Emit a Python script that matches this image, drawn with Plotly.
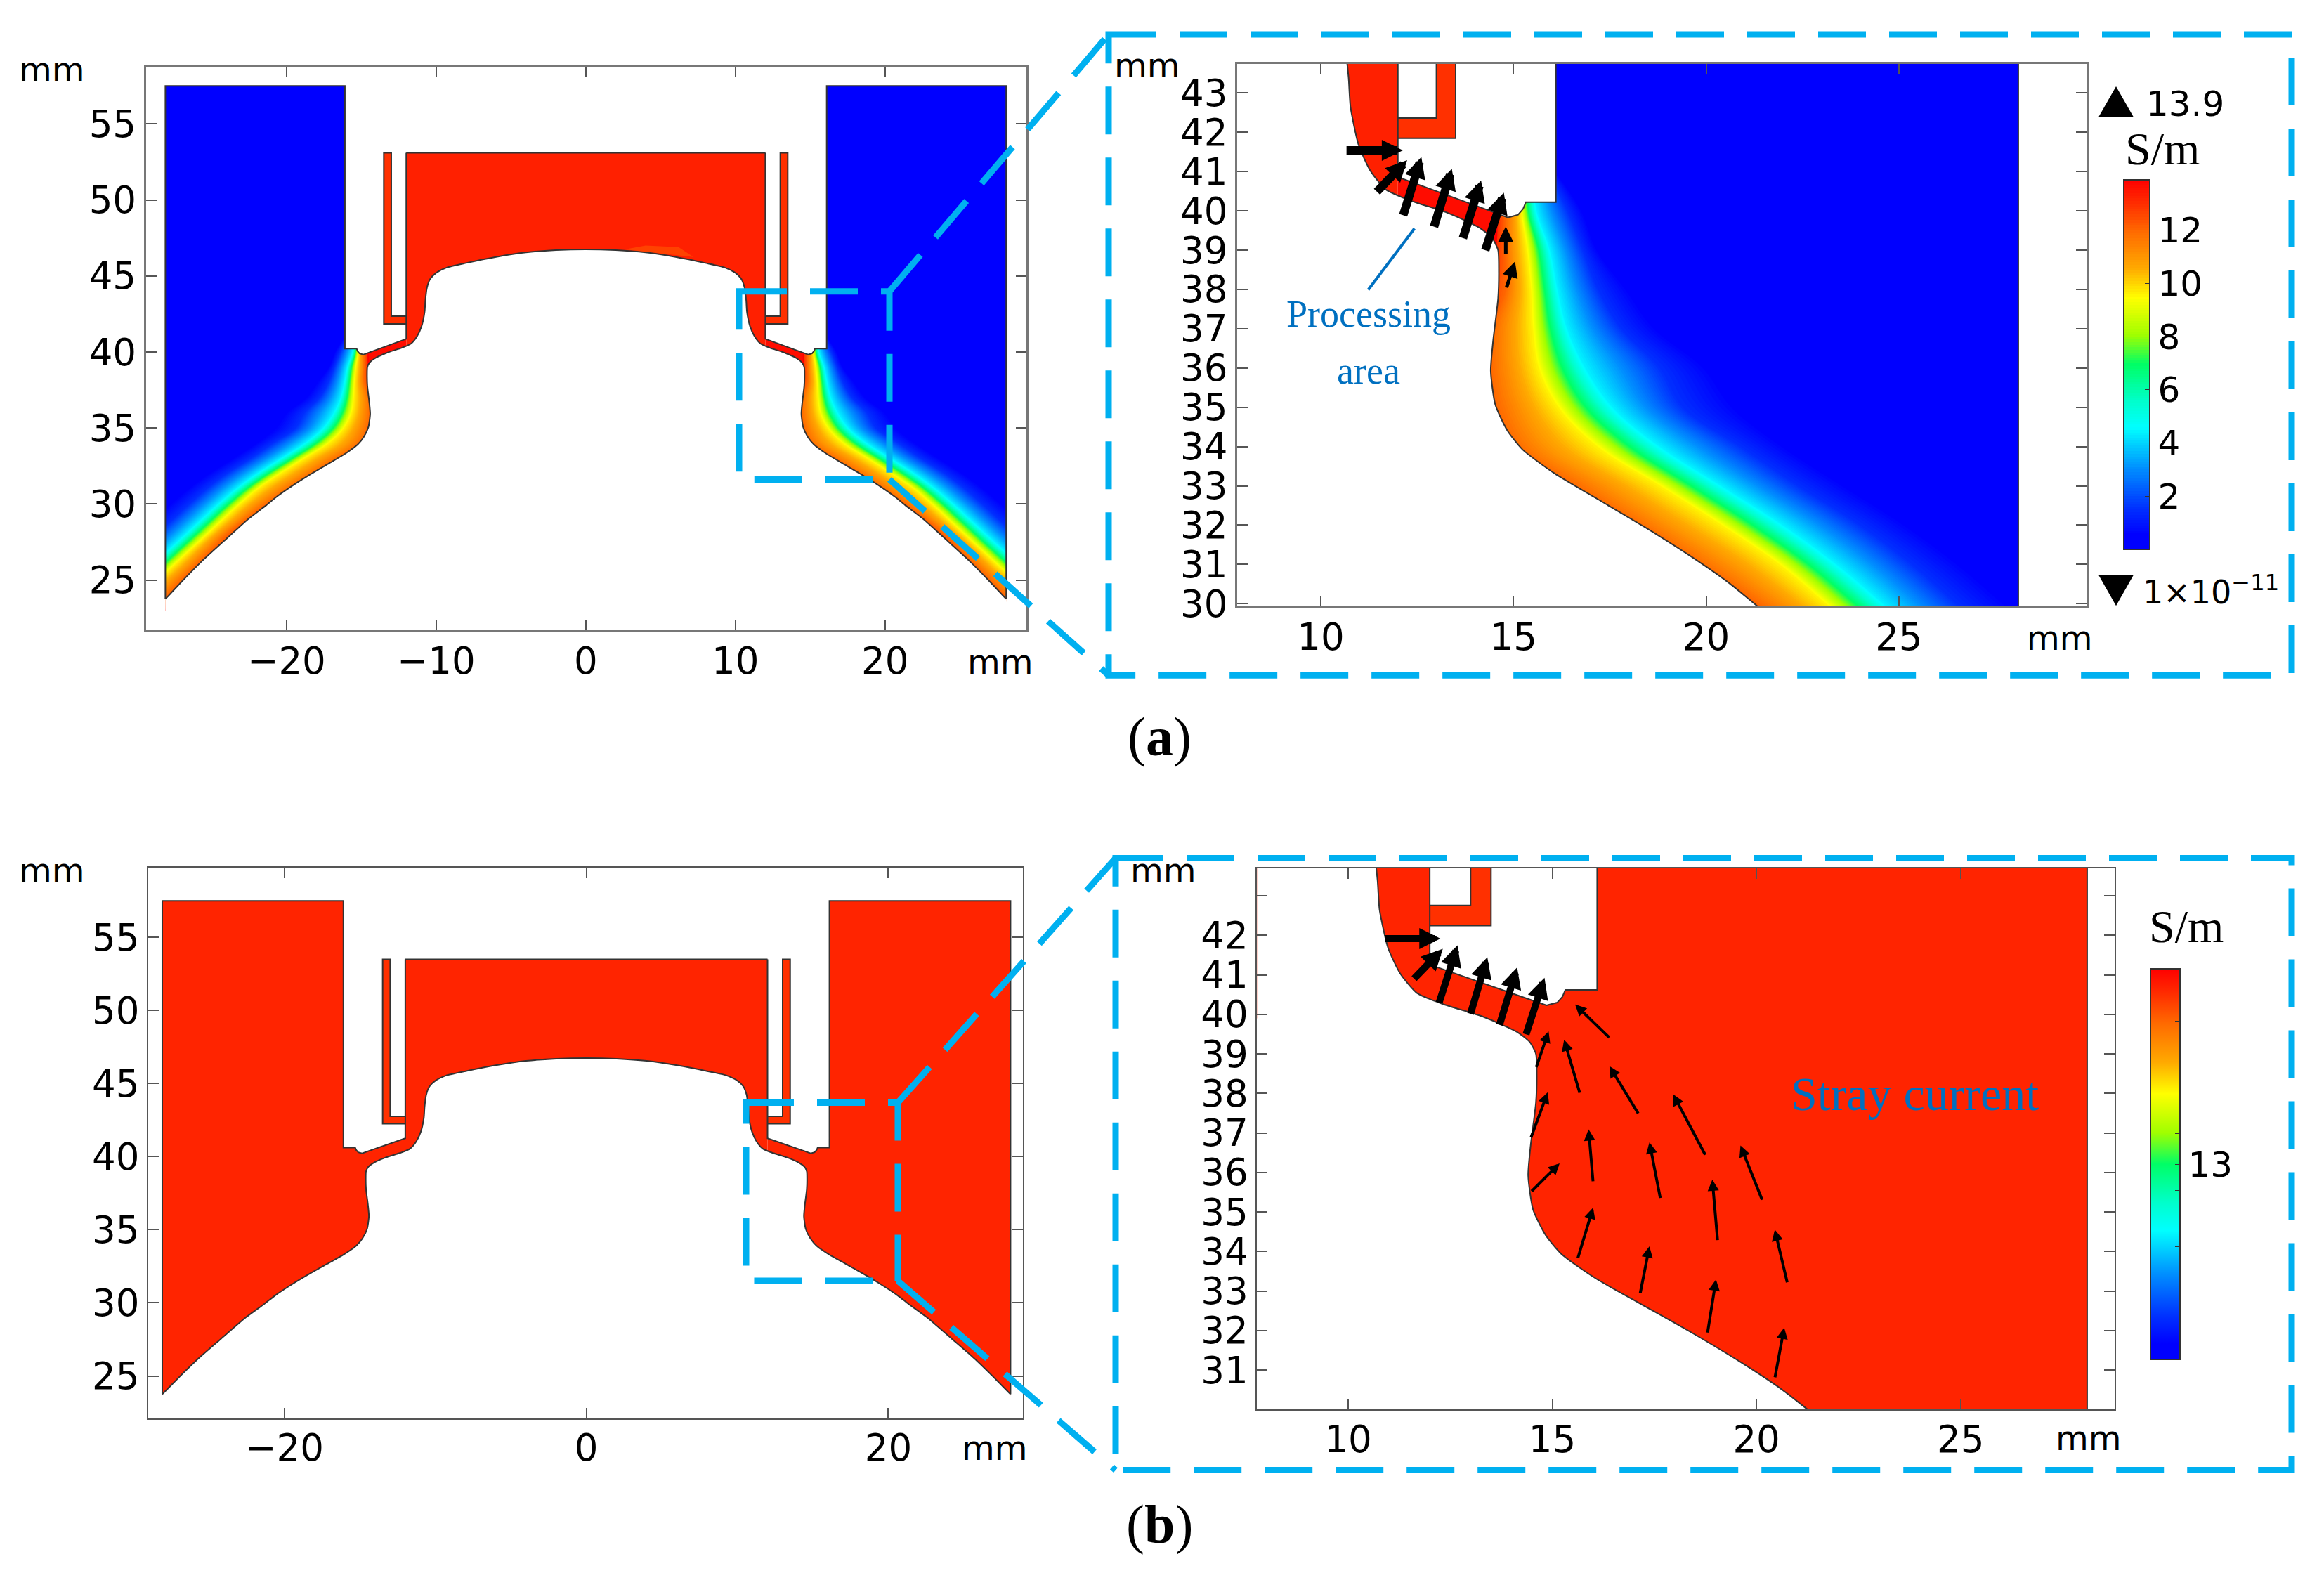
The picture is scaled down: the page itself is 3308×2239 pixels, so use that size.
import plotly.graph_objects as go

W, H = 3308, 2239

# workpiece profile, right half, centre -> tip (mm)
arch_x = [0, 2, 4, 6, 8, 9.3, 10, 10.4, 10.62, 10.72, 10.77, 10.98, 11.28, 11.69]
arch_y = [46.75, 46.7, 46.55, 46.25, 45.85, 45.55, 45.2, 44.8, 44.2, 43.4, 42.65, 41.68, 41.03, 40.54]
flank_x = [12.3, 13.31, 14.13, 14.45, 14.6, 14.62, 14.6, 14.47, 14.41, 14.53, 14.84, 15.24, 16.06, 17.17, 18.39,
           19.61, 20.63, 21.34, 22.57, 24.2, 25.7, 27, 28.1, 28.1]
flank_y = [40.27, 39.94, 39.56, 39.3, 39.0, 38.5, 37.77, 36.68, 35.92, 35.06, 34.41, 33.92, 33.32, 32.67, 31.96,
           31.2, 30.5, 29.93, 29.0, 27.55, 26.2, 24.9, 23.75, 23.75]

# tool profile, right half
tool_x = [16.1, 16.1, 15.32, 15.25, 15.12, 14.86, 14.5, 14, 12]
tool_y = [57.5, 40.22, 40.22, 40.05, 39.9, 39.83, 39.96, 40.14, 40.86]
strip_x = [12, 13.5, 13.5, 13, 13, 12]
strip_y = [41.85, 41.85, 53.1, 53.1, 42.36, 42.36]
top_y = 53.1
block_top = 57.5
block_right = 28.1
tool_lift_b = 0.4
glow_x = [2.6, 7.2, 6.2, 4, 2.6]
glow_y = [46.75, 46.25, 46.9, 47.0, 46.75]

# where each conductivity level sits on each row: S/m across, y in mm down, x in mm in the cells
sigma_levels = [13.9, 13, 12, 11, 9.6, 7, 4.4, 1.5, 0.2, 0]
sigma_rows = [23, 24, 25, 26, 27, 28, 29, 30, 31, 32, 33, 34, 35, 36, 37, 38, 39, 40, 41]
sigma_x = [
    [27.2, 28.2, 29.2, 29.9, 30.8, 31.55, 32.3, 34.2, 35.9, 40],
    [26, 27, 28, 28.7, 29.7, 30.45, 31.2, 33.1, 34.8, 40],
    [25, 26, 27, 27.7, 28.6, 29.35, 30.1, 32, 33.7, 40],
    [24, 25, 26, 26.6, 27.5, 28.25, 29, 30.9, 32.6, 40],
    [23, 24, 25, 25.6, 26.4, 27.15, 27.9, 29.8, 31.5, 40],
    [22, 23, 24, 24.55, 25.3, 26.05, 26.8, 28.7, 30.4, 40],
    [20.7, 21.7, 22.7, 23.3, 24.2, 24.95, 25.7, 27.6, 29.3, 40],
    [19.3, 20.3, 21.34, 22.1, 23.1, 23.85, 24.6, 26.5, 28.2, 40],
    [17.8, 18.8, 19.8, 20.7, 21.9, 22.65, 23.4, 25.35, 27, 40],
    [16.2, 17.2, 18.2, 19.1, 20.4, 21.2, 22, 24, 25.6, 40],
    [14.6, 15.6, 16.56, 17.5, 18.8, 19.6, 20.4, 22.4, 24, 40],
    [13.0, 14.0, 15.04, 15.9, 17.17, 18, 18.8, 20.9, 22.4, 40],
    [12.6, 13.6, 14.57, 15.25, 16.16, 16.87, 17.58, 19.4, 21.2, 40],
    [12.4, 13.4, 14.41, 14.95, 15.65, 16.26, 16.87, 18.8, 20.4, 40],
    [13.6, 14, 14.47, 14.9, 15.5, 15.95, 16.4, 17.8, 19, 40],
    [14, 14.3, 14.8, 15.05, 15.45, 15.8, 16.15, 17.2, 18.2, 40],
    [14.2, 14.55, 14.8, 15.0, 15.35, 15.65, 15.95, 16.8, 17.3, 40],
    [14.4, 14.6, 14.8, 15, 15.2, 15.38, 15.6, 16.4, 16.9, 40],
    [14.5, 14.7, 14.9, 15.05, 15.2, 15.35, 15.5, 15.9, 16.15, 40],
]
bar_ticks_a = [2, 4, 6, 8, 10, 12]
bar_range_b = [12.5, 13.5]
bar_ticks_b = [12.645, 12.789, 12.933, 13.0, 13.078, 13.221, 13.366]
bar_labels_b = ['', '', '', '13', '', '', '']

# arrows: tail x, tail y, head x, head y (mm)
arrows_a_thick = [
    (10.64, 41.54, 12.13, 41.54), (11.43, 40.46, 12.24, 41.29), (12.13, 39.86, 12.61, 41.37),
    (12.93, 39.57, 13.4, 41.07), (13.68, 39.28, 14.16, 40.77), (14.26, 38.97, 14.75, 40.46),
]
arrows_a_thin = [(14.8, 38.88, 14.8, 39.6), (14.81, 38.02, 15.04, 38.71)]
arrows_b_thick = [
    (10.88, 41.92, 12.26, 41.92), (11.59, 40.88, 12.32, 41.66), (12.22, 40.27, 12.68, 41.75),
    (12.99, 39.99, 13.41, 41.45), (13.7, 39.71, 14.14, 41.19), (14.35, 39.47, 14.81, 40.93),
]
arrows_b_thin = [
    (16.42, 39.39, 15.56, 40.25), (14.6, 38.64, 14.91, 39.57), (15.68, 37.99, 15.29, 39.36),
    (17.12, 37.47, 16.4, 38.69), (18.76, 36.42, 17.96, 37.98), (14.47, 36.86, 14.89, 38.03),
    (16.0, 35.75, 15.89, 37.09), (17.65, 35.33, 17.38, 36.76), (20.15, 35.28, 19.61, 36.68),
    (14.47, 35.5, 15.18, 36.23), (19.05, 34.26, 18.92, 35.82), (15.62, 33.81, 16.0, 35.11),
    (17.15, 32.92, 17.38, 34.13), (20.76, 33.19, 20.45, 34.55), (18.8, 31.92, 19.01, 33.29),
    (20.45, 30.79, 20.68, 32.07),
]
leader_x = [12.43, 11.23]
leader_y = [39.55, 37.99]

# axes
ticks_left_a = [-20, -10, 0, 10, 20]
ticks_left_b = [-20, 0, 20]
ticks_y_left = [25, 30, 35, 40, 45, 50, 55]
ticks_x_right = [10, 15, 20, 25]
ticks_y_right_a = list(range(30, 44))
ticks_y_right_b = list(range(31, 44))
labels_y_right_b = [str(v) for v in range(31, 43)] + ['']

TICK_FONT = 'DejaVu Sans'
SERIF = 'Liberation Serif'
OUTLINE = '#333333'
BLUE_BOX = '#00b0f0'
BLUE_TEXT = '#0070c0'
RED_A = '#ff2000'
RED_B = '#ff2400'

rainbow = [
    [0.0, '#0000ff'], [0.04, '#0000ff'], [0.11, '#0030ff'], [0.22, '#0090ff'], [0.33, '#00ffff'],
    [0.40, '#00ffcc'], [0.50, '#00ff66'], [0.58, '#a0ff00'], [0.68, '#ffff00'], [0.76, '#ffaa00'],
    [0.86, '#ff6a00'], [0.94, '#ff2a00'], [1.0, '#ff0000'],
]


# page offset and plot height as they come out in the browser
def fx(p):
    return (p - 8) / W


def fy(p):
    return 1 - (p - 6) / 2214


fig = go.Figure()


def poly(xs, ys, color, xa, ya, line=None, spline=False):
    fig.add_trace(go.Scatter(
        x=xs, y=ys, xaxis=xa, yaxis=ya, mode='lines', fill='toself', fillcolor=color,
        line=dict(color=line or color, width=2 if line else 0, shape='spline' if spline else 'linear', smoothing=0.6),
        hoverinfo='skip', showlegend=False,
    ))


def stroke(xs, ys, xa, ya, color=OUTLINE, width=2, spline=False):
    fig.add_trace(go.Scatter(
        x=xs, y=ys, xaxis=xa, yaxis=ya, mode='lines',
        line=dict(color=color, width=width, shape='spline' if spline else 'linear', smoothing=0.6),
        hoverinfo='skip', showlegend=False,
    ))


def add_field(sign, xa, ya, uid, colorbar=None):
    carpet_x = [[sign * v for v in row[::-1]] for row in sigma_x]
    carpet_y = [[y] * len(sigma_levels) for y in sigma_rows]
    hidden = dict(showgrid=False, showline=False, showticklabels='none', startline=False, endline=False,
                  minorgridcount=0, smoothing=0)
    fig.add_trace(go.Carpet(
        a=sigma_levels[::-1], b=sigma_rows, x=carpet_x, y=carpet_y, carpet=uid, xaxis=xa, yaxis=ya,
        aaxis=hidden, baxis=dict(hidden, smoothing=1), color='rgba(0,0,0,0)',
    ))
    fig.add_trace(go.Contourcarpet(
        a=sigma_levels[::-1], b=sigma_rows, z=[sigma_levels[::-1] for _ in sigma_rows], carpet=uid,
        xaxis=xa, yaxis=ya, autocontour=False, contours=dict(start=0, end=13.9, size=0.1, coloring='fill', showlines=False),
        line=dict(width=0), zmin=0, zmax=13.9, colorscale=rainbow,
        showscale=colorbar is not None, colorbar=colorbar,
    ))


def add_domain(xa, ya, lift, field, red, gap_red, field_bottom):
    wall_x = arch_x + flank_x
    wall_y = arch_y + flank_y
    lifted = [v + lift for v in tool_y]
    lifted[0] = block_top
    top = top_y + lift
    field_left = 14 if field_bottom < 30 else 16.1
    for s in (-1, 1):
        poly([s * v for v in [field_left, block_right, block_right, field_left]],
             [field_bottom, field_bottom, block_top, block_top], field, xa, ya)
        poly([s * v for v in [block_right, 45, 45, block_right]], [15, 15, 70, 70], 'white', xa, ya)
        poly([s * v for v in [16.1] + tool_x[1:] + [12]], [70] + lifted[1:] + [70], 'white', xa, ya)
        poly([s * v for v in [12, 14, 14.5, 14.5, 12]], [lifted[8], lifted[7], lifted[6], 38.9, 39.8], gap_red, xa, ya)
        poly([s * v for v in strip_x], [v + lift for v in strip_y], '#ff3000', xa, ya, OUTLINE)
    poly([-12, 12, 12, -12], [39.9, 39.9, top, top], red, xa, ya)
    # everything under the workpiece profile stays white
    mask_x = [-v for v in wall_x[::-1]] + wall_x[1:]
    mask_y = wall_y[::-1] + wall_y[1:]
    poly(mask_x + [block_right, -block_right], mask_y + [15, 15], 'white', xa, ya, spline=True)
    stroke(mask_x, mask_y, xa, ya, spline=True)
    for s in (-1, 1):
        stroke([s * v for v in [block_right, block_right] + tool_x + [12]],
               [flank_y[-1], block_top] + lifted + [top], xa, ya)
    stroke([-12, 12], [top, top], xa, ya)


def add_arrows(arrows, xa, ya, width, size):
    for x0, y0, x1, y1 in arrows:
        fig.add_annotation(
            x=x1, y=y1, ax=x0, ay=y0, xref=xa, yref=ya, axref=xa, ayref=ya, text='',
            showarrow=True, arrowhead=2, arrowsize=size, arrowwidth=width, arrowcolor='black', standoff=0,
        )


def label(text, x, y, size, family=TICK_FONT, color='black'):
    fig.add_annotation(
        x=fx(x), y=fy(y), xref='paper', yref='paper', text=text, showarrow=False,
        xanchor='center', yanchor='middle', font=dict(size=size, family=family, color=color),
    )


def triangle(x0, x1, y_base, y_tip):
    path = f'M{fx(x0)},{fy(y_base)} L{fx(x1)},{fy(y_base)} L{fx((x0 + x1) / 2)},{fy(y_tip)} Z'
    fig.add_shape(type='path', path=path, xref='paper', yref='paper', fillcolor='black', line=dict(width=0))


def dashed(path):
    fig.add_shape(type='path', path=path, xref='paper', yref='paper',
                  line=dict(color=BLUE_BOX, width=9, dash='68px,33px'))


def box_path(x0, y0, x1, y1):
    return f'M{fx(x0)},{fy(y0)} L{fx(x1)},{fy(y0)} L{fx(x1)},{fy(y1)} L{fx(x0)},{fy(y1)} Z'


add_field(-1, 'x', 'y', 'left_neg')
add_field(1, 'x', 'y', 'left_pos')
add_field(1, 'x2', 'y2', 'right_a', colorbar=dict(
    x=fx(3023), xanchor='left', y=fy(780.6), yanchor='bottom', len=526, lenmode='pixels', thickness=37,
    thicknessmode='pixels', xpad=0, ypad=0, tickvals=bar_ticks_a, ticks='inside', ticklen=8, tickcolor='#333333',
    outlinecolor='#333333', outlinewidth=2, tickfont=dict(size=50, family=TICK_FONT, color='black'),
))
# colour bar for panel (b); the trace itself sits outside the axis range
fig.add_trace(go.Heatmap(
    x=[100, 101], y=[100, 101], z=[bar_range_b, bar_range_b], xaxis='x4', yaxis='y4',
    zmin=bar_range_b[0], zmax=bar_range_b[1], colorscale=rainbow, hoverinfo='skip',
    colorbar=dict(
        x=fx(3061), xanchor='left', y=fy(1935), yanchor='bottom', len=556, lenmode='pixels', thickness=42,
        thicknessmode='pixels', xpad=0, ypad=0, tickvals=bar_ticks_b, ticktext=bar_labels_b, ticks='inside',
        ticklen=8, tickcolor='#333333', outlinecolor='#333333', outlinewidth=2,
        tickfont=dict(size=50, family=TICK_FONT, color='black'),
    ),
))

add_domain('x', 'y', 0, '#0000ff', RED_A, '#ff0c00', 40.9)
poly(glow_x, glow_y, 'rgba(255,90,0,0.6)', 'x', 'y')
add_domain('x2', 'y2', 0, '#0000ff', RED_A, '#ff0c00', 40.9)
add_domain('x3', 'y3', tool_lift_b, RED_B, RED_B, RED_B, 23)
add_domain('x4', 'y4', tool_lift_b, RED_B, RED_B, RED_B, 23)

stroke(leader_x, leader_y, 'x2', 'y2', BLUE_TEXT, 4)
add_arrows(arrows_a_thick, 'x2', 'y2', 12, 0.5)
add_arrows(arrows_a_thin, 'x2', 'y2', 5, 0.9)
add_arrows(arrows_b_thick, 'x4', 'y4', 10, 0.6)
add_arrows(arrows_b_thin, 'x4', 'y4', 4, 0.8)


def axis(p0, p1, rng, tickvals, ticktext=None, anchor='y', horizontal=True, color='#777777', width=3):
    lo, hi = (fx(p0), fx(p1)) if horizontal else (fy(p1), fy(p0))
    return dict(
        domain=[lo, hi], range=rng, anchor=anchor, tickmode='array', tickvals=tickvals,
        ticktext=ticktext if ticktext else [str(v).replace('-', '\u2212') for v in tickvals],
        ticks='inside', ticklen=15, tickwidth=2, tickcolor='#555555',
        showline=True, linecolor=color, linewidth=width, mirror='ticks', showgrid=False, zeroline=False,
        ticklabelstandoff=-5 if horizontal else 0,
        tickfont=dict(size=53, family=TICK_FONT, color='black'),
    )


fig.update_layout(
    width=W, height=H, margin=dict(l=0, r=0, t=0, b=0), paper_bgcolor='white', plot_bgcolor='white',
    showlegend=False,
    xaxis=axis(207.7, 1461, [-29.4, 29.45], ticks_left_a, anchor='y'),
    yaxis=axis(93.5, 896, [21.69, 58.74], ticks_y_left, anchor='x', horizontal=False),
    xaxis2=axis(1761, 2970, [7.83, 29.87], ticks_x_right, anchor='y2'),
    yaxis2=axis(89, 862, [29.93, 43.74], ticks_y_right_a, anchor='x2', horizontal=False),
    xaxis3=axis(211, 1455.6, [-29.03, 28.9], ticks_left_b, anchor='y3', color='#555555', width=2),
    yaxis3=axis(1234.3, 2018.7, [22.1, 59.76], ticks_y_left, anchor='x3', horizontal=False, color='#555555', width=2),
    xaxis4=axis(1789.3, 3010.4, [7.77, 28.78], ticks_x_right, anchor='y4', color='#555555', width=2),
    yaxis4=axis(1235, 2006, [30.0, 43.7], ticks_y_right_b, labels_y_right_b, anchor='x4', horizontal=False,
                color='#555555', width=2),
)

# zoom frames and their connectors
dashed(box_path(1578, 47, 3262, 960))
dashed(box_path(1052, 413, 1266, 681))
dashed(f'M{fx(1266)},{fy(413)} L{fx(1578)},{fy(47)}')
dashed(f'M{fx(1266)},{fy(681)} L{fx(1578)},{fy(960)}')
dashed(box_path(1588, 1220.5, 3262, 2092.5))
dashed(box_path(1062, 1569, 1278, 1822.7))
dashed(f'M{fx(1278)},{fy(1569)} L{fx(1588)},{fy(1220.5)}')
dashed(f'M{fx(1278)},{fy(1822.7)} L{fx(1588)},{fy(2092.5)}')

triangle(2987, 3037, 165, 121)
triangle(2987, 3037, 817, 861)

for txt, x, y in [('mm', 74, 97), ('mm', 1424, 941), ('mm', 1633, 91), ('mm', 2932, 907),
                  ('mm', 74, 1238), ('mm', 1416, 2061), ('mm', 1656, 1238), ('mm', 2973, 2047)]:
    label(txt, x, y, 48)
label('13.9', 3110, 146, 50)
label('1×10<sup>−11</sup>', 3147, 839, 46)
label('S/m', 3078, 210, 66, SERIF)
label('S/m', 3112, 1318, 66, SERIF)
label('Processing', 1948, 445, 54, SERIF, BLUE_TEXT)
label('area', 1948, 526, 54, SERIF, BLUE_TEXT)
label('Stray current', 2725, 1556, 68, SERIF, BLUE_TEXT)
label('(<b>a</b>)', 1650, 1047, 78, SERIF)
label('(<b>b</b>)', 1650, 2169, 78, SERIF)

fig.write_html("out.html")
